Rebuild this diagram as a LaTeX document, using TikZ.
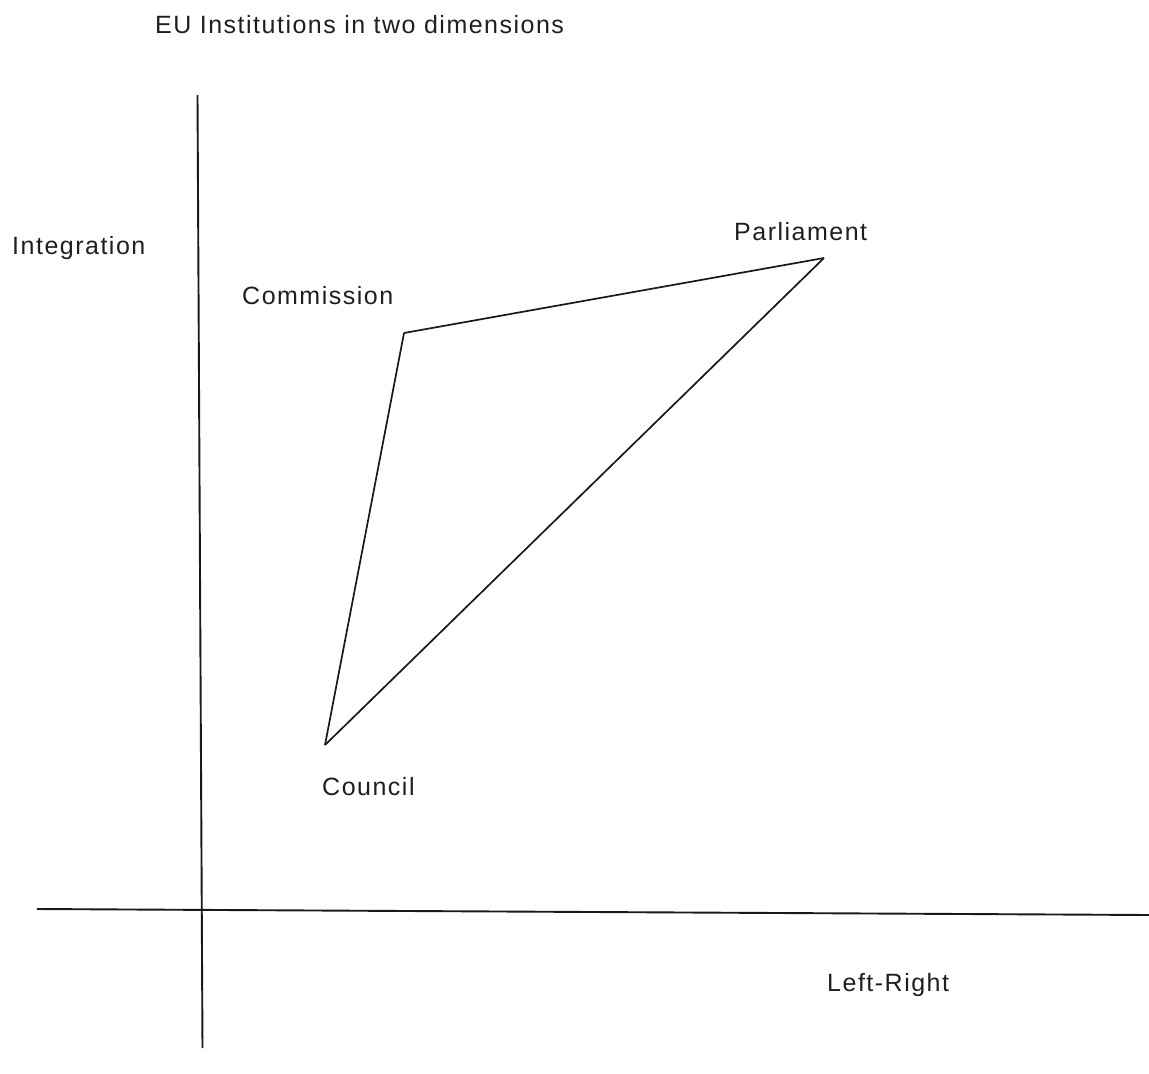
\documentclass[tikz,border=0pt]{standalone}
\usepackage{fontspec}
\setmainfont{Liberation Sans}[LetterSpace=6]
\begin{document}
\begin{tikzpicture}[x=1pt,y=-1pt,
  lbl/.style={anchor=base west,inner sep=0pt,text=black!88,font=\fontsize{25}{29}\selectfont},
  axis/.style={line width=1.9pt,black!90},
  edge/.style={line width=1.7pt,black!90}]
\useasboundingbox (0,0) rectangle (1149,1074);
% axes
\coordinate (ytop) at (197.5,95);
\coordinate (ybot) at (202.5,1048);
\coordinate (xleft) at (37,909);
\coordinate (xright) at (1149,915);
\draw[axis] (ytop) -- (ybot);
\draw[axis] (xleft) -- (xright);
% institutions
\coordinate (com) at (404,333);
\coordinate (par) at (824,258);
\coordinate (cou) at (325,745);
\draw[edge] (com) -- (par);
\draw[edge] (com) -- (cou);
\draw[edge] (cou) -- (par);
% labels
\node[lbl] (title) at (155,33) {EU Institutions in two dimensions};
\node[lbl] (integ) at (12,254) {Integration};
\node[lbl] (parl) at (734,240) {Parliament};
\node[lbl] (comm) at (242,304) {Commission};
\node[lbl] (coun) at (322,795) {Council};
\node[lbl] (lr) at (827,991) {Left-Right};
\end{tikzpicture}
\end{document}
